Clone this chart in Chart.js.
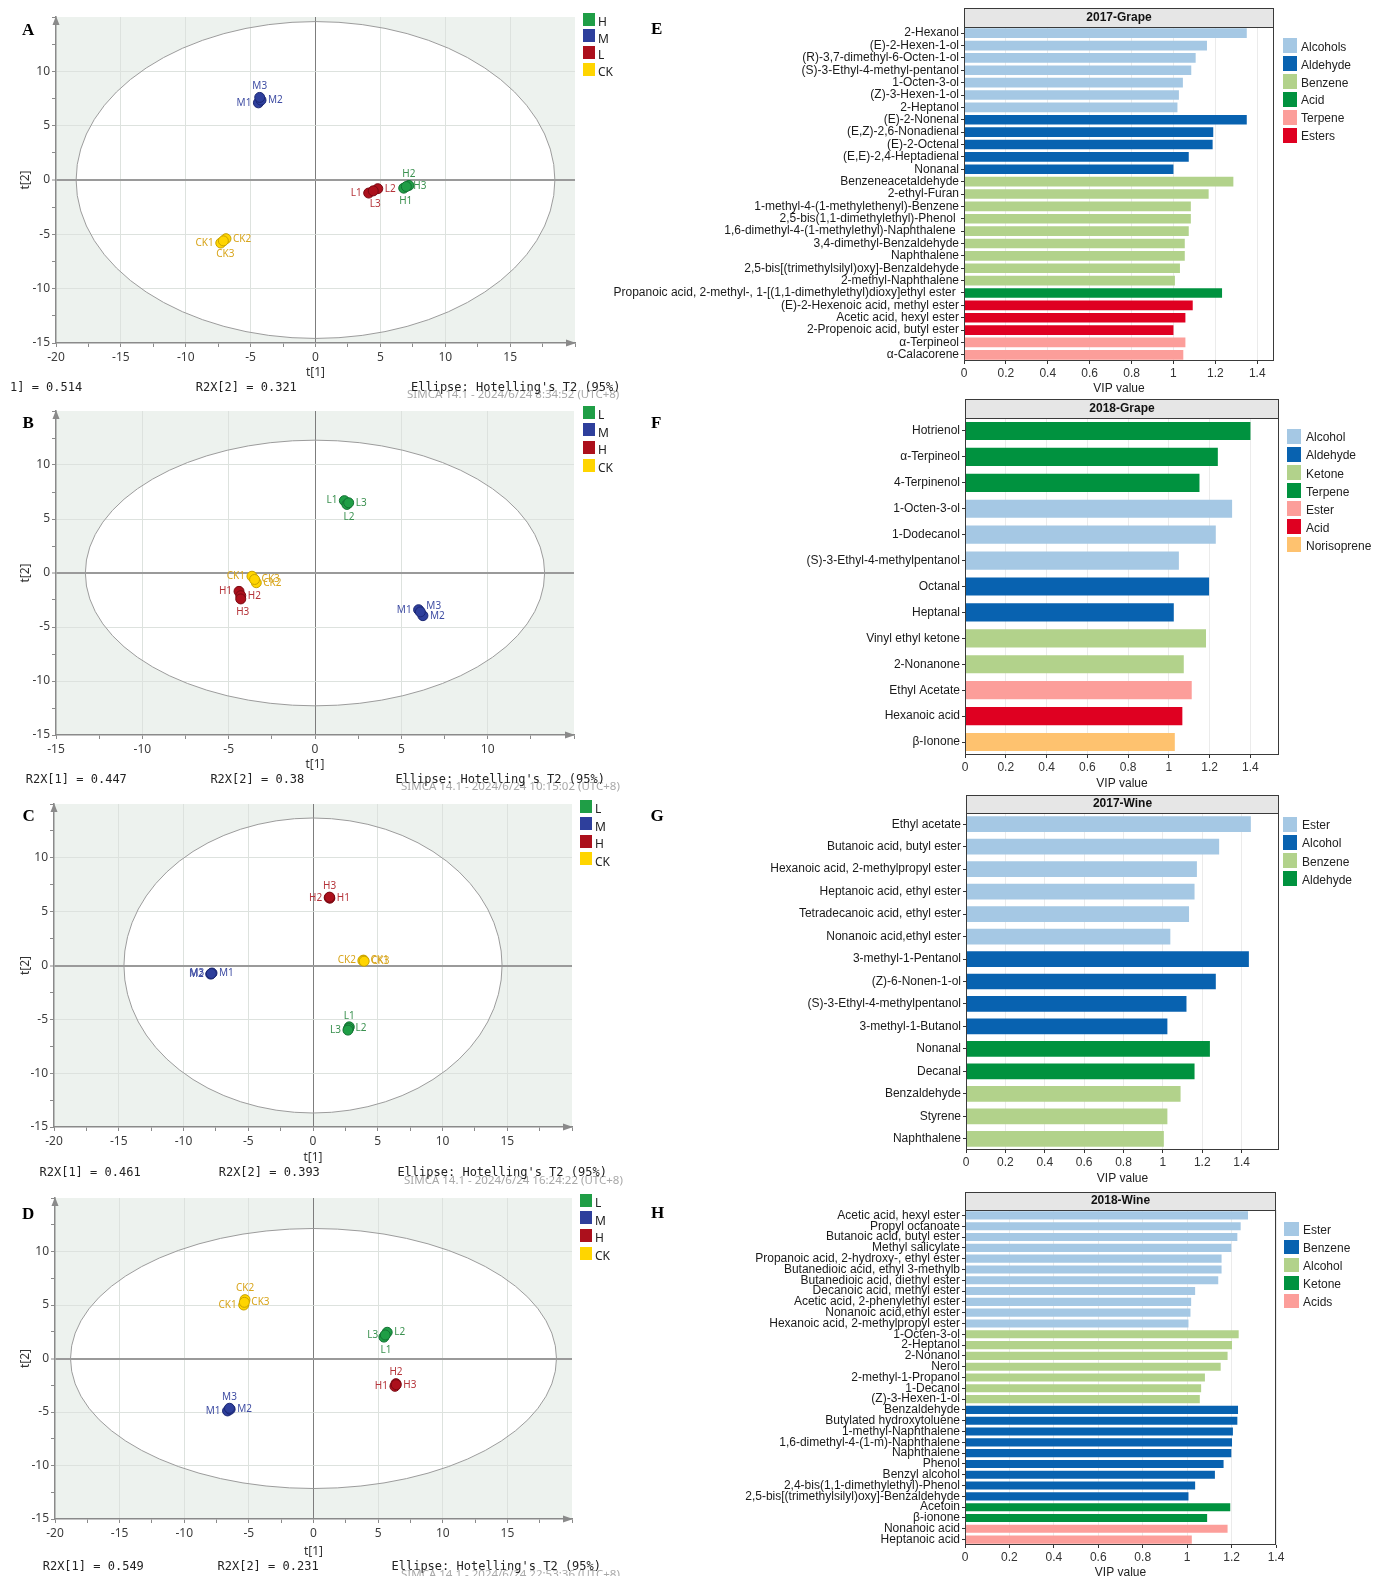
<!DOCTYPE html>
<html>
<head>
<meta charset="utf-8">
<title>PCA score plots and VIP values</title>
<script src="https://cdn.jsdelivr.net/npm/chart.js@4.4.1/dist/chart.umd.min.js"></script>
<style>
  body { margin: 0; background: #fff; }
  #page { position: relative; width: 1375px; height: 1576px; overflow: hidden; background: #fff; }
  #page canvas { position: absolute; }
  .t { position: absolute; white-space: pre; line-height: 1; }
  .letter { font: bold 17px "Liberation Serif", "DejaVu Serif", serif; color: #000; }
  .mono { font: 12px "DejaVu Sans Mono", "Liberation Mono", monospace; color: #222; }
  .simca { font: 11.5px "Noto Sans", "Open Sans", sans-serif; color: #a8a8a8; }
  .lg { font: 12px "Liberation Sans", Arial, sans-serif; color: #222; }
  .lgs { font: 12px "Noto Sans", sans-serif; color: #222; }
  .key { position: absolute; }
</style>
</head>
<body>
<div id="page"></div>
<script>
// ---------- PCA scores: t[1], t[2] per sample ----------
const aGroups = ['H', 'M', 'L', 'CK'];
const aSamples = ['H1', 'H2', 'H3', 'M1', 'M2', 'M3', 'L1', 'L2', 'L3', 'CK1', 'CK2', 'CK3'];
const aT1 = [6.8, 7.2, 7.0, -4.4, -4.2, -4.3, 4.1, 4.8, 4.45, -7.3, -6.9, -7.1];
const aT2 = [-0.75, -0.5, -0.6, 7.1, 7.35, 7.6, -1.2, -0.8, -1.0, -5.8, -5.4, -5.6];
const aEllipse = [18.45, 14.58];
const aR2X = ['1] = 0.514', 'R2X[2] = 0.321'];

const bGroups = ['L', 'M', 'H', 'CK'];
const bSamples = ['L1', 'L2', 'L3', 'M1', 'M2', 'M3', 'H1', 'H2', 'H3', 'CK1', 'CK2', 'CK3'];
const bT1 = [1.7, 1.85, 1.95, 6.0, 6.25, 6.1, -4.4, -4.3, -4.3, -3.65, -3.4, -3.5];
const bT2 = [6.7, 6.35, 6.5, -3.4, -3.95, -3.6, -1.7, -2.1, -2.4, -0.3, -0.9, -0.6];
const bEllipse = [13.3, 12.3];
const bR2X = ['R2X[1] = 0.447', 'R2X[2] = 0.38'];

const cGroups = ['L', 'M', 'H', 'CK'];
const cSamples = ['L1', 'L2', 'L3', 'M1', 'M2', 'M3', 'H1', 'H2', 'H3', 'CK1', 'CK2', 'CK3'];
const cT1 = [2.8, 2.75, 2.7, -7.8, -7.9, -7.85, 1.3, 1.25, 1.28, 3.9, 3.85, 3.95];
const cT2 = [-5.7, -5.85, -6.0, -0.7, -0.8, -0.75, 6.25, 6.3, 6.35, 0.5, 0.45, 0.4];
const cEllipse = [14.6, 13.7];
const cR2X = ['R2X[1] = 0.461', 'R2X[2] = 0.393'];

const dGroups = ['L', 'M', 'H', 'CK'];
const dSamples = ['L1', 'L2', 'L3', 'M1', 'M2', 'M3', 'H1', 'H2', 'H3', 'CK1', 'CK2', 'CK3'];
const dT1 = [5.45, 5.7, 5.55, -6.65, -6.45, -6.5, 6.3, 6.38, 6.4, -5.4, -5.3, -5.35];
const dT2 = [2.0, 2.45, 2.2, -4.9, -4.75, -4.65, -2.6, -2.35, -2.45, 5.0, 5.5, 5.25];
const dEllipse = [18.8, 12.15];
const dR2X = ['R2X[1] = 0.549', 'R2X[2] = 0.231'];

// ---------- VIP values ----------
const VIP_TICKS = [0, 0.2, 0.4, 0.6, 0.8, 1, 1.2, 1.4];

const eLegend = ['Alcohols', 'Aldehyde', 'Benzene', 'Acid', 'Terpene', 'Esters'];
const eLabels = ['2-Hexanol', '(E)-2-Hexen-1-ol', '(R)-3,7-dimethyl-6-Octen-1-ol', '(S)-3-Ethyl-4-methyl-pentanol',
  '1-Octen-3-ol', '(Z)-3-Hexen-1-ol', '2-Heptanol', '(E)-2-Nonenal', '(E,Z)-2,6-Nonadienal', '(E)-2-Octenal',
  '(E,E)-2,4-Heptadienal', 'Nonanal', 'Benzeneacetaldehyde', '2-ethyl-Furan', '1-methyl-4-(1-methylethenyl)-Benzene',
  '2,5-bis(1,1-dimethylethyl)-Phenol ', '1,6-dimethyl-4-(1-methylethyl)-Naphthalene ', '3,4-dimethyl-Benzaldehyde',
  'Naphthalene', '2,5-bis[(trimethylsilyl)oxy]-Benzaldehyde', '2-methyl-Naphthalene',
  'Propanoic acid, 2-methyl-, 1-[(1,1-dimethylethyl)dioxy]ethyl ester ', '(E)-2-Hexenoic acid, methyl ester',
  'Acetic acid, hexyl ester', '2-Propenoic acid, butyl ester', 'α-Terpineol', 'α-Calacorene'];
const eValues = [1.35, 1.16, 1.106, 1.085, 1.045, 1.026, 1.019, 1.35, 1.19, 1.187, 1.073, 1.0, 1.286, 1.168,
  1.083, 1.083, 1.073, 1.054, 1.054, 1.031, 1.007, 1.232, 1.092, 1.057, 1.0, 1.057, 1.047];
const eClass = ['Alcohols', 'Alcohols', 'Alcohols', 'Alcohols', 'Alcohols', 'Alcohols', 'Alcohols',
  'Aldehyde', 'Aldehyde', 'Aldehyde', 'Aldehyde', 'Aldehyde',
  'Benzene', 'Benzene', 'Benzene', 'Benzene', 'Benzene', 'Benzene', 'Benzene', 'Benzene', 'Benzene',
  'Acid', 'Esters', 'Esters', 'Esters', 'Terpene', 'Terpene'];

const fLegend = ['Alcohol', 'Aldehyde', 'Ketone', 'Terpene', 'Ester', 'Acid', 'Norisoprene'];
const fLabels = ['Hotrienol', 'α-Terpineol', '4-Terpinenol', '1-Octen-3-ol', '1-Dodecanol',
  '(S)-3-Ethyl-4-methylpentanol', 'Octanal', 'Heptanal', 'Vinyl ethyl ketone', '2-Nonanone',
  'Ethyl Acetate', 'Hexanoic acid', 'β-Ionone'];
const fValues = [1.40, 1.24, 1.15, 1.31, 1.23, 1.049, 1.197, 1.024, 1.182, 1.073, 1.112, 1.066, 1.029];
const fClass = ['Terpene', 'Terpene', 'Terpene', 'Alcohol', 'Alcohol', 'Alcohol', 'Aldehyde', 'Aldehyde',
  'Ketone', 'Ketone', 'Ester', 'Acid', 'Norisoprene'];

const gLegend = ['Ester', 'Alcohol', 'Benzene', 'Aldehyde'];
const gLabels = ['Ethyl acetate', 'Butanoic acid, butyl ester', 'Hexanoic acid, 2-methylpropyl ester',
  'Heptanoic acid, ethyl ester', 'Tetradecanoic acid, ethyl ester', 'Nonanoic acid,ethyl ester',
  '3-methyl-1-Pentanol', '(Z)-6-Nonen-1-ol', '(S)-3-Ethyl-4-methylpentanol', '3-methyl-1-Butanol',
  'Nonanal', 'Decanal', 'Benzaldehyde', 'Styrene', 'Naphthalene'];
const gValues = [1.447, 1.286, 1.173, 1.161, 1.133, 1.038, 1.437, 1.269, 1.12, 1.023, 1.239, 1.161, 1.09, 1.023, 1.005];
const gClass = ['Ester', 'Ester', 'Ester', 'Ester', 'Ester', 'Ester', 'Alcohol', 'Alcohol', 'Alcohol', 'Alcohol',
  'Aldehyde', 'Aldehyde', 'Benzene', 'Benzene', 'Benzene'];

const hLegend = ['Ester', 'Benzene', 'Alcohol', 'Ketone', 'Acids'];
const hLabels = ['Acetic acid, hexyl ester', 'Propyl octanoate', 'Butanoic acid, butyl ester', 'Methyl salicylate',
  'Propanoic acid, 2-hydroxy-, ethyl ester', 'Butanedioic acid, ethyl 3-methylb', 'Butanedioic acid, diethyl ester',
  'Decanoic acid, methyl ester', 'Acetic acid, 2-phenylethyl ester', 'Nonanoic acid,ethyl ester',
  'Hexanoic acid, 2-methylpropyl ester', '1-Octen-3-ol', '2-Heptanol', '2-Nonanol', 'Nerol', '2-methyl-1-Propanol',
  '1-Decanol', '(Z)-3-Hexen-1-ol', 'Benzaldehyde', 'Butylated hydroxytoluene', '1-methyl-Naphthalene',
  '1,6-dimethyl-4-(1-m)-Naphthalene', 'Naphthalene', 'Phenol', 'Benzyl alcohol', '2,4-bis(1,1-dimethylethyl)-Phenol',
  '2,5-bis[(trimethylsilyl)oxy]-Benzaldehyde', 'Acetoin', 'β-ionone', 'Nonanoic acid', 'Heptanoic acid'];
const hValues = [1.274, 1.241, 1.226, 1.199, 1.155, 1.155, 1.14, 1.036, 1.018, 1.015, 1.006,
  1.232, 1.202, 1.182, 1.151, 1.08, 1.063, 1.057,
  1.229, 1.226, 1.206, 1.202, 1.199, 1.164, 1.125, 1.036, 1.006,
  1.194, 1.09, 1.182, 1.021];
const hClass = ['Ester', 'Ester', 'Ester', 'Ester', 'Ester', 'Ester', 'Ester', 'Ester', 'Ester', 'Ester', 'Ester',
  'Alcohol', 'Alcohol', 'Alcohol', 'Alcohol', 'Alcohol', 'Alcohol', 'Alcohol',
  'Benzene', 'Benzene', 'Benzene', 'Benzene', 'Benzene', 'Benzene', 'Benzene', 'Benzene', 'Benzene',
  'Ketone', 'Ketone', 'Acids', 'Acids'];

// ---------- styles ----------
const GROUP_FILL = ['#1f9e46', '#2e3f9c', '#ac101c', '#ffd500'];
const GROUP_EDGE = ['#137233', '#1c2874', '#7a0912', '#c8a200'];
const GROUP_TEXT = ['#3b9150', '#3f4da3', '#b5343a', '#d8a51c'];
const PALETTE = ['#a5c8e4', '#0862b0', '#b2d28b', '#00923f', '#fc9e9a', '#df0021', '#fec26f'];

Chart.defaults.font.family = '"Liberation Sans", Arial, sans-serif';

const page = document.getElementById('page');

function addText(cls, text, x, cy, size) {
  const d = document.createElement('div');
  d.className = 't ' + cls;
  d.textContent = text;
  d.style.left = x + 'px';
  d.style.top = (cy - size * 0.5) + 'px';
  page.appendChild(d);
}

function addLegend(items, colors, keyX, textX, firstY, step, keyW, keyH, cls) {
  items.forEach((name, i) => {
    const cy = firstY + i * step;
    const k = document.createElement('div');
    k.className = 'key';
    k.style.left = keyX + 'px';
    k.style.top = (cy - keyH / 2) + 'px';
    k.style.width = keyW + 'px';
    k.style.height = keyH + 'px';
    k.style.background = colors[i];
    page.appendChild(k);
    addText(cls, name, textX, cy, 12);
  });
}

function makeCanvas(left, top, w, h) {
  const c = document.createElement('canvas');
  c.width = w;
  c.height = h;
  c.style.left = left + 'px';
  c.style.top = top + 'px';
  c.style.width = w + 'px';
  c.style.height = h + 'px';
  page.appendChild(c);
  return c;
}

// ellipse, shaded plot area, point names, axis arrows
const pcaPlugin = {
  id: 'pca',
  beforeDraw(chart, args, opts) {
    const { ctx, chartArea: a, scales: { x, y } } = chart;
    ctx.save();
    ctx.fillStyle = '#edf2ee';
    ctx.fillRect(a.left, a.top, a.right - a.left, a.bottom - a.top);
    const cx = x.getPixelForValue(0), cy = y.getPixelForValue(0);
    ctx.beginPath();
    ctx.ellipse(cx, cy, Math.abs(x.getPixelForValue(opts.a) - cx), Math.abs(y.getPixelForValue(opts.b) - cy), 0, 0, Math.PI * 2);
    ctx.fillStyle = '#fff';
    ctx.fill();
    ctx.restore();
  },
  beforeDatasetsDraw(chart, args, opts) {
    const { ctx, scales: { x, y } } = chart;
    const cx = x.getPixelForValue(0), cy = y.getPixelForValue(0);
    ctx.save();
    ctx.beginPath();
    ctx.ellipse(cx, cy, Math.abs(x.getPixelForValue(opts.a) - cx), Math.abs(y.getPixelForValue(opts.b) - cy), 0, 0, Math.PI * 2);
    ctx.strokeStyle = '#9c9c9c';
    ctx.lineWidth = 1;
    ctx.stroke();
    ctx.restore();
  },
  afterDatasetsDraw(chart) {
    const ctx = chart.ctx;
    ctx.save();
    ctx.font = '10px "Noto Sans", sans-serif';
    ctx.textBaseline = 'middle';
    chart.data.datasets.forEach((ds, di) => {
      chart.getDatasetMeta(di).data.forEach((pt, i) => {
        const raw = ds.data[i];
        let tx = pt.x, ty = pt.y, al = 'center';
        if (raw.place === 'l') { tx -= 7; al = 'right'; }
        else if (raw.place === 'r') { tx += 7; al = 'left'; }
        else if (raw.place === 't') { ty -= 11; }
        else if (raw.place === 'b') { ty += 13; tx += 2; }
        else if (raw.place === 'tr') { tx += 6; ty -= 6; al = 'left'; }
        ctx.textAlign = al;
        ctx.fillStyle = ds.labelColor;
        ctx.fillText(raw.name, tx, ty);
      });
    });
    ctx.restore();
  },
  afterDraw(chart) {
    const { ctx, chartArea: a } = chart;
    ctx.save();
    ctx.fillStyle = '#8a8a8a';
    ctx.beginPath();
    ctx.moveTo(a.left, a.top - 1);
    ctx.lineTo(a.left - 3.5, a.top + 8);
    ctx.lineTo(a.left + 3.5, a.top + 8);
    ctx.fill();
    ctx.beginPath();
    ctx.moveTo(a.right + 1, a.bottom);
    ctx.lineTo(a.right - 9, a.bottom - 3.5);
    ctx.lineTo(a.right - 9, a.bottom + 3.5);
    ctx.fill();
    ctx.restore();
  }
};

function pcaChart(p) {
  const top = p.top - 12, bottom = p.t1y + 8;
  const canvas = makeCanvas(0, top, 600, bottom - top);
  const datasets = p.groups.map((g, gi) => {
    const idx = p.names.map((n, i) => i).filter(i => p.names[i].replace(/\d+$/, '') === g);
    return {
      label: g,
      data: idx.map(i => ({ x: p.t1[i], y: p.t2[i], name: p.names[i], place: p.place[i] })),
      backgroundColor: GROUP_FILL[gi],
      borderColor: GROUP_EDGE[gi],
      borderWidth: 1,
      pointRadius: 5,
      pointHoverRadius: 5,
      labelColor: GROUP_TEXT[gi]
    };
  });
  const axis = (lim, isY, title) => ({
    type: 'linear',
    min: -lim,
    max: lim,
    ticks: {
      stepSize: 2.5, maxTicksLimit: 100, autoSkip: false, maxRotation: 0, padding: isY ? 2 : 3,
      color: '#3c3c3c', font: { family: '"Noto Sans", sans-serif', size: 12 },
      callback: v => (v % 5 === 0 && v !== lim) ? String(v) : ''
    },
    grid: {
      color: c => {
        const v = c.tick ? c.tick.value : 1;
        if (v === 0) return isY ? '#9a9a9a' : '#7d7d7d';
        if (v % 5 === 0 && Math.abs(v) !== lim) return '#dde2de';
        return 'rgba(0,0,0,0)';
      },
      lineWidth: c => (c.tick && c.tick.value === 0 && isY) ? 2 : 1,
      tickColor: '#8a8a8a', tickLength: 4, tickWidth: 1
    },
    border: { color: '#8a8a8a', width: 1.5 },
    title: { display: true, text: title, color: '#333', font: { family: '"Noto Sans", sans-serif', size: 12 }, padding: { top: 0, bottom: 1 } },
    afterFit: s => { if (isY) s.width = p.left - 18; else s.height = bottom - p.bottom; }
  });
  new Chart(canvas, {
    type: 'scatter',
    data: { datasets },
    options: {
      responsive: false, animation: false, devicePixelRatio: 1,
      layout: { padding: { left: 18, top: 12, right: 600 - p.right, bottom: 0 } },
      plugins: { legend: { display: false }, tooltip: { enabled: false }, pca: { a: p.ellipse[0], b: p.ellipse[1] } },
      scales: { x: axis(p.xLim, false, 't[1]'), y: axis(15, true, 't[2]') }
    },
    plugins: [pcaPlugin]
  });
}

// strip + frame for VIP panels
const vipFrame = {
  id: 'vipFrame',
  beforeDraw(chart) {
    const { ctx, chartArea: a } = chart;
    const t = chart.titleBlock;
    ctx.save();
    ctx.fillStyle = '#e6e6e6';
    ctx.fillRect(a.left, t.top, a.right - a.left, a.top - t.top);
    ctx.restore();
  },
  afterDraw(chart) {
    const { ctx, chartArea: a } = chart;
    const t = chart.titleBlock;
    const L = Math.round(a.left) + 0.5, R = Math.round(a.right) - 0.5;
    const T = Math.round(t.top) + 0.5, M = Math.round(a.top) + 0.5, B = Math.round(a.bottom) - 0.5;
    ctx.save();
    ctx.strokeStyle = '#3a3a3a';
    ctx.lineWidth = 1;
    ctx.strokeRect(L, T, R - L, B - T);
    ctx.beginPath();
    ctx.moveTo(L, M);
    ctx.lineTo(R, M);
    ctx.stroke();
    ctx.restore();
  }
};

function vipChart(p) {
  const top = p.stripTop - 2, bottom = p.vipY + 8;
  const canvas = makeCanvas(600, top, 775, bottom - top);
  const pad = (p.stripBottom - p.stripTop - 14.4) / 2;
  new Chart(canvas, {
    type: 'bar',
    data: {
      labels: p.labels,
      datasets: [{
        data: p.values,
        backgroundColor: p.classes.map(c => PALETTE[p.legend.indexOf(c)]),
        borderWidth: 0,
        barPercentage: p.bar,
        categoryPercentage: 1
      }]
    },
    options: {
      indexAxis: 'y', responsive: false, animation: false, devicePixelRatio: 1,
      layout: { padding: { top: 2, left: 0, right: 775 - (p.right - 600), bottom: 0 } },
      plugins: {
        legend: { display: false },
        tooltip: { enabled: false },
        title: {
          display: true, text: p.title, fullSize: false, color: '#111',
          font: { size: 12, weight: 'bold', lineHeight: 1.2 }, padding: { top: pad, bottom: pad }
        }
      },
      scales: {
        x: {
          type: 'linear', min: 0, max: p.xMax,
          afterBuildTicks: s => { s.ticks = VIP_TICKS.filter(v => v <= p.xMax + 1e-9).map(v => ({ value: v })); },
          afterFit: s => { s.height = bottom - p.bottom; },
          ticks: { stepSize: 0.2, autoSkip: false, maxRotation: 0, padding: 2, color: '#333', font: { size: 12 },
            callback: v => String(Math.round(v * 10) / 10) },
          grid: { color: '#ebebeb', tickColor: '#333', tickLength: 3 },
          border: { display: false },
          title: { display: true, text: 'VIP value', color: '#222', font: { size: 12 }, padding: { top: 0, bottom: 0.8 } }
        },
        y: {
          type: 'category', offset: true,
          afterFit: s => { s.width = p.left - 600; },
          ticks: { autoSkip: false, padding: 2, color: '#1a1a1a', font: { size: 12 } },
          grid: { drawOnChartArea: false, offset: false, tickColor: '#333', tickLength: 3 },
          border: { display: false }
        }
      }
    },
    plugins: [vipFrame]
  });
}

// ---------- build panels ----------
pcaChart({ names: aSamples, t1: aT1, t2: aT2, groups: aGroups, ellipse: aEllipse, xLim: 20,
  place: ['b', 't', 'r', 'l', 'r', 't', 'l', 'r', 'b', 'l', 'r', 'b'],
  left: 56, right: 575, top: 17, bottom: 343, t1y: 373 });
pcaChart({ names: bSamples, t1: bT1, t2: bT2, groups: bGroups, ellipse: bEllipse, xLim: 15,
  place: ['l', 'b', 'r', 'l', 'r', 'tr', 'l', 'r', 'b', 'l', 'r', 'r'],
  left: 56, right: 574, top: 411, bottom: 735, t1y: 765 });
pcaChart({ names: cSamples, t1: cT1, t2: cT2, groups: cGroups, ellipse: cEllipse, xLim: 20,
  place: ['t', 'r', 'l', 'r', 'l', 'l', 'r', 'l', 't', 'r', 'l', 'r'],
  left: 54, right: 572, top: 804, bottom: 1127, t1y: 1158 });
pcaChart({ names: dSamples, t1: dT1, t2: dT2, groups: dGroups, ellipse: dEllipse, xLim: 20,
  place: ['b', 'r', 'l', 'l', 'r', 't', 'l', 't', 'r', 'l', 't', 'r'],
  left: 55, right: 572, top: 1198, bottom: 1519, t1y: 1552 });

vipChart({ title: '2017-Grape', labels: eLabels, values: eValues, classes: eClass, legend: eLegend, xMax: 1.48, bar: 0.78,
  left: 964, right: 1274, stripTop: 8, stripBottom: 27, bottom: 361, vipY: 389 });
vipChart({ title: '2018-Grape', labels: fLabels, values: fValues, classes: fClass, legend: fLegend, xMax: 1.54, bar: 0.7,
  left: 965, right: 1279, stripTop: 399, stripBottom: 418, bottom: 755, vipY: 784 });
vipChart({ title: '2017-Wine', labels: gLabels, values: gValues, classes: gClass, legend: gLegend, xMax: 1.59, bar: 0.7,
  left: 966, right: 1279, stripTop: 795, stripBottom: 813, bottom: 1150, vipY: 1179 });
vipChart({ title: '2018-Wine', labels: hLabels, values: hValues, classes: hClass, legend: hLegend, xMax: 1.4, bar: 0.75,
  left: 965, right: 1276, stripTop: 1192, stripBottom: 1210, bottom: 1545, vipY: 1573 });

// ---------- legends ----------
addLegend(aGroups, GROUP_FILL, 583, 598, 19, 16.7, 12, 13, 'lgs');
addLegend(bGroups, GROUP_FILL, 583, 598, 412, 17.7, 12, 13, 'lgs');
addLegend(cGroups, GROUP_FILL, 580, 595, 806, 17.6, 12, 13, 'lgs');
addLegend(dGroups, GROUP_FILL, 580, 595, 1200, 17.7, 12, 13, 'lgs');
addLegend(eLegend, PALETTE, 1283, 1301, 45.7, 17.9, 14, 15, 'lg');
addLegend(fLegend, PALETTE, 1287, 1306, 436.3, 18.1, 14, 15, 'lg');
addLegend(gLegend, PALETTE, 1283, 1302, 824.3, 18.1, 14, 15, 'lg');
addLegend(hLegend, PALETTE, 1284, 1303, 1229.3, 18, 15, 14, 'lg');

// ---------- SIMCA footers ----------
addText('simca', 'SIMCA 14.1 - 2024/6/24 8:34:52 (UTC+8)', 407, 391.7, 11.5);
addText('simca', 'SIMCA 14.1 - 2024/6/24 10:15:02 (UTC+8)', 401, 784, 11.5);
addText('simca', 'SIMCA 14.1 - 2024/6/24 16:24:22 (UTC+8)', 404, 1177.7, 11.5);
addText('simca', 'SIMCA 14.1 - 2024/6/24 22:53:36 (UTC+8)', 401, 1571.7, 11.5);
[[aR2X, 10, 195.7, 411, 385.7], [bR2X, 25.7, 210.4, 395.4, 778.3],
 [cR2X, 39.5, 218.7, 397.4, 1170.7], [dR2X, 42.7, 217.5, 391.5, 1565]].forEach(([r, x1, x2, x3, cy]) => {
  addText('mono', r[0], x1, cy, 12);
  addText('mono', r[1], x2, cy, 12);
  addText('mono', "Ellipse: Hotelling's T2 (95%)", x3, cy, 12);
});

// ---------- panel letters ----------
[['A', 22, 28], ['B', 22.5, 421.7], ['C', 22.5, 814], ['D', 22, 1212],
 ['E', 651, 27], ['F', 651, 421.7], ['G', 650.5, 814], ['H', 651, 1211.7]].forEach(([s, x, y]) => addText('letter', s, x, y, 17));
</script>
</body>
</html>
